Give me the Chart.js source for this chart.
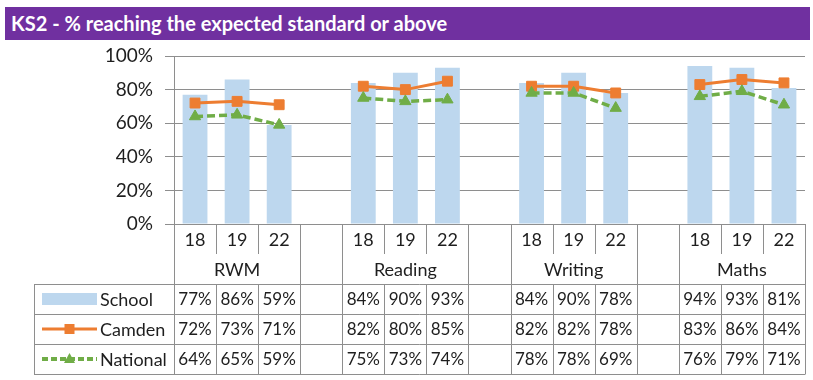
<!DOCTYPE html>
<html>
<head>
<meta charset="utf-8">
<script src="https://cdn.jsdelivr.net/npm/chart.js@4.4.1/dist/chart.umd.min.js"></script>
<style>
  html, body { margin: 0; padding: 0; background: #ffffff; }
  #wrap { position: relative; width: 813px; height: 380px; overflow: hidden; }
  #title {
    position: absolute; left: 5px; top: 7px; width: 805px; height: 33px;
    background: #7030A0; color: #ffffff; box-sizing: border-box;
    padding-left: 6px; font-family: Lato, "Noto Sans", sans-serif; font-weight: bold;
    font-size: 20px; line-height: 33px; white-space: nowrap; z-index: 2;
  }
  #c { position: absolute; left: 0; top: 0; }
</style>
</head>
<body>
<div id="wrap">
  <div id="title">KS2 - % reaching the expected standard or above</div>
  <canvas id="c" width="813" height="380"></canvas>
</div>
<script>
// ---- Data ----
const categories = ['RWM', 'Reading', 'Writing', 'Maths'];
const years = ['18', '19', '22'];
const schoolValues   = [77, 86, 59,  84, 90, 93,  84, 90, 78,  94, 93, 81];
const camdenValues   = [72, 73, 71,  82, 80, 85,  82, 82, 78,  83, 86, 84];
const nationalValues = [64, 65, 59,  75, 73, 74,  78, 78, 69,  76, 79, 71];
const seriesNames = ['School', 'Camden', 'National'];
const yTickValues = [0, 20, 40, 60, 80, 100];

// ---- Build slot layout: 3 years per category, empty gap slot between categories ----
const slotLabels = [];
const slotIndex = [];   // slot -> data index or null
categories.forEach((cat, g) => {
  years.forEach((yr, k) => {
    slotLabels.push(cat + ' ' + yr);
    slotIndex.push(g * years.length + k);
  });
  if (g < categories.length - 1) { slotLabels.push(''); slotIndex.push(null); }
});
const toSlots = arr => slotIndex.map(i => i === null ? null : arr[i]);

const COLORS = { school: '#BDD7EE', camden: '#ED7D31', national: '#70AD47' };
const FONT = 'Lato, "Noto Sans", sans-serif';
const TEXT = '#1e1e1e';
const LINE = '#8e8e8e';

// table geometry (pixel rows below plot)
const YEAR_ROW_BOTTOM = 254;
const TABLE_TOP = 284;
const ROW_H = 30;
const LEGEND_LEFT = 34;

const tablePlugin = {
  id: 'tablePlugin',
  afterDraw(chart) {
    const ctx = chart.ctx;
    const xs = chart.scales.x;
    const area = chart.chartArea;
    const n = slotLabels.length;
    const centers = [];
    for (let i = 0; i < n; i++) centers.push(xs.getPixelForValue(i));
    const half = (centers[1] - centers[0]) / 2;
    const bounds = [centers[0] - half];
    for (let i = 0; i < n; i++) bounds.push(centers[i] + half);
    const crisp = v => Math.round(v) + 0.5;
    const bottom = TABLE_TOP + ROW_H * 3;

    ctx.save();
    ctx.strokeStyle = LINE;
    ctx.lineWidth = 1;
    ctx.beginPath();
    for (let i = 0; i <= n; i++) {
      const x = crisp(bounds[i]);
      const left = i > 0 ? slotIndex[i - 1] : null;
      const right = i < n ? slotIndex[i] : null;
      const groupEdge = (i === 0 || i === n || left === null || right === null);
      const top = area.bottom;
      if (groupEdge) {
        ctx.moveTo(x, top); ctx.lineTo(x, bottom);
      } else {
        ctx.moveTo(x, top); ctx.lineTo(x, YEAR_ROW_BOTTOM);
        ctx.moveTo(x, TABLE_TOP); ctx.lineTo(x, bottom);
      }
    }
    ctx.moveTo(LEGEND_LEFT + 0.5, TABLE_TOP); ctx.lineTo(LEGEND_LEFT + 0.5, bottom);
    for (let r = 0; r <= 3; r++) {
      const y = TABLE_TOP + r * ROW_H + 0.5;
      ctx.moveTo(LEGEND_LEFT, y); ctx.lineTo(crisp(bounds[n]), y);
    }
    ctx.stroke();

    ctx.fillStyle = TEXT;
    ctx.textAlign = 'center';
    ctx.textBaseline = 'middle';
    ctx.font = '18px ' + FONT;
    for (let i = 0; i < n; i++) {
      const di = slotIndex[i];
      if (di === null) continue;
      ctx.fillText(years[di % years.length], centers[i], (area.bottom + YEAR_ROW_BOTTOM) / 2 + 1);
    }
    categories.forEach((cat, g) => {
      const first = slotIndex.indexOf(g * years.length);
      const last = first + years.length - 1;
      const cx = (bounds[first] + bounds[last + 1]) / 2;
      ctx.fillText(cat, cx, (YEAR_ROW_BOTTOM + TABLE_TOP) / 2 + 1);
    });

    const rows = [schoolValues, camdenValues, nationalValues];
    ctx.font = '17px ' + FONT;
    rows.forEach((vals, r) => {
      const cy = TABLE_TOP + r * ROW_H + ROW_H / 2 + 1;
      for (let i = 0; i < n; i++) {
        const di = slotIndex[i];
        if (di === null) continue;
        ctx.fillText(vals[di] + '%', centers[i], cy);
      }
    });

    // legend keys
    const kx0 = 42, kx1 = 97;
    let cy = TABLE_TOP + ROW_H / 2;
    ctx.fillStyle = COLORS.school;
    ctx.fillRect(kx0, cy - 6, kx1 - kx0, 12);
    cy = TABLE_TOP + ROW_H * 1.5;
    ctx.strokeStyle = COLORS.camden;
    ctx.lineWidth = 3;
    ctx.beginPath(); ctx.moveTo(kx0, cy); ctx.lineTo(kx1, cy); ctx.stroke();
    ctx.fillStyle = COLORS.camden;
    ctx.fillRect((kx0 + kx1) / 2 - 5, cy - 5, 10, 10);
    cy = TABLE_TOP + ROW_H * 2.5;
    ctx.strokeStyle = COLORS.national;
    ctx.lineWidth = 4;
    ctx.setLineDash([6, 3]);
    ctx.beginPath(); ctx.moveTo(kx0, cy); ctx.lineTo(kx1, cy); ctx.stroke();
    ctx.setLineDash([]);
    ctx.fillStyle = COLORS.national;
    const tx = (kx0 + kx1) / 2;
    ctx.beginPath(); ctx.moveTo(tx, cy - 6); ctx.lineTo(tx + 5.5, cy + 4); ctx.lineTo(tx - 5.5, cy + 4); ctx.closePath(); ctx.fill();

    ctx.fillStyle = TEXT;
    ctx.textAlign = 'left';
    ctx.font = '18px ' + FONT;
    seriesNames.forEach((name, r) => {
      ctx.fillText(name, 100, TABLE_TOP + r * ROW_H + ROW_H / 2 + 1);
    });
    ctx.restore();
  }
};

new Chart(document.getElementById('c'), {
  type: 'bar',
  data: {
    labels: slotLabels,
    datasets: [
      {
        type: 'line', label: seriesNames[2], data: toSlots(nationalValues), order: 0,
        borderColor: COLORS.national, backgroundColor: COLORS.national,
        borderWidth: 3.5, borderDash: [8, 4], borderCapStyle: 'butt',
        pointStyle: 'triangle', pointRadius: 6.5, pointBorderWidth: 1,
        pointBackgroundColor: COLORS.national, pointBorderColor: COLORS.national,
        spanGaps: false, tension: 0
      },
      {
        type: 'line', label: seriesNames[1], data: toSlots(camdenValues), order: 1,
        borderColor: COLORS.camden, backgroundColor: COLORS.camden,
        borderWidth: 3, pointStyle: 'rect', pointRadius: 7, pointBorderWidth: 1,
        pointBackgroundColor: COLORS.camden, pointBorderColor: COLORS.camden,
        spanGaps: false, tension: 0
      },
      {
        type: 'bar', label: seriesNames[0], data: toSlots(schoolValues), order: 2,
        backgroundColor: COLORS.school, borderWidth: 0,
        barPercentage: 0.59, categoryPercentage: 1.0
      }
    ]
  },
  options: {
    responsive: false,
    animation: false,
    layout: { padding: { top: 56, bottom: 156, left: 0, right: 2 } },
    plugins: { legend: { display: false }, tooltip: { enabled: false }, title: { display: false } },
    scales: {
      x: { display: false, offset: true },
      y: {
        min: 0, max: 100,
        afterBuildTicks: s => { s.ticks = yTickValues.map(v => ({ value: v })); },
        afterFit: s => { s.width = 174; },
        ticks: { callback: v => v + '%', color: TEXT, font: { family: FONT, size: 19 }, padding: 12 },
        grid: { color: LINE, lineWidth: 1, tickLength: 9 },
        border: { color: LINE, width: 1 }
      }
    }
  },
  plugins: [tablePlugin]
});
</script>
</body>
</html>
